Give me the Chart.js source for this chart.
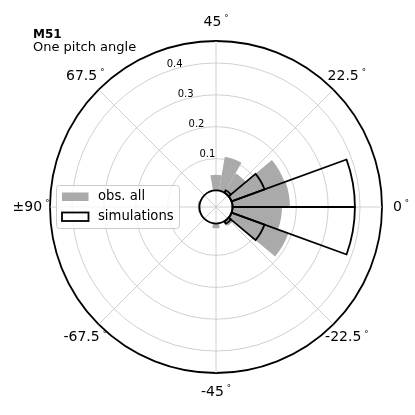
<!DOCTYPE html>
<html>
<head>
<meta charset="utf-8">
<script src="https://cdn.jsdelivr.net/npm/chart.js@4.4.1/dist/chart.umd.min.js"></script>
<style>
  html, body { margin: 0; padding: 0; background: #fff; }
  canvas { display: block; }
</style>
</head>
<body>
<canvas id="chart" width="415" height="415"></canvas>
<script>
// pitch angle bins, 10 deg wide (lower edge), from -90 to 80
const pitchBins = [-90, -80, -70, -60, -50, -40, -30, -20, -10, 0, 10, 20, 30, 40, 50, 60, 70, 80];
// fraction per bin
const obsAll      = [0.005, 0, 0, 0, 0.015, 0, 0.017, 0.19, 0.155, 0.18, 0.177, 0.07, 0.108, 0.049, 0, 0, 0, 0.005];
const simulations = [0, 0, 0, 0, 0, 0, 0.009, 0.11, 0.384, 0.384, 0.11, 0.009, 0, 0, 0, 0, 0, 0];

const rTicks = [0.1, 0.2, 0.3, 0.4];
const thetaTicks = [0, 22.5, 45, 67.5, 90, -67.5, -45, -22.5];

const rMin = -0.052;   // radial origin offset (inner hole)
const rMax = 0.469;

const obsColor = '#aaaaaa';
const gridColor = '#c4c4c4';
const FONT = '"DejaVu Sans", sans-serif';

// polarArea runs clockwise, bins go counter-clockwise -> reverse
const rev = a => a.slice().reverse();

const polarDecor = {
    id: 'polarDecor',
    afterDatasetsUpdate(chart) {
        // bars start at r = 0, not at the centre
        const r0 = chart.scales.r.getDistanceFromCenterForValue(0);
        chart.data.datasets.forEach((ds, i) => {
            chart.getDatasetMeta(i).data.forEach(arc => { arc.innerRadius = r0; });
        });
    },
    beforeDatasetsDraw(chart) {
        const ctx = chart.ctx, s = chart.scales.r;
        const R = s.getDistanceFromCenterForValue(rMax);
        ctx.save();
        ctx.strokeStyle = gridColor;
        ctx.lineWidth = 0.8;
        thetaTicks.forEach(p => {
            const a = p * 2 * Math.PI / 180;
            ctx.beginPath();
            ctx.moveTo(s.xCenter, s.yCenter);
            ctx.lineTo(s.xCenter + R * Math.cos(a), s.yCenter - R * Math.sin(a));
            ctx.stroke();
        });
        ctx.restore();
    },
    afterDatasetsDraw(chart) {
        const ctx = chart.ctx, s = chart.scales.r;
        // inner hole
        ctx.save();
        ctx.strokeStyle = '#000';
        ctx.lineWidth = 1.8;
        ctx.beginPath();
        ctx.arc(s.xCenter, s.yCenter, s.getDistanceFromCenterForValue(0), 0, 2 * Math.PI);
        ctx.stroke();

        // radial tick labels
        ctx.fillStyle = '#000';
        ctx.font = '10px ' + FONT;
        ctx.textAlign = 'left';
        ctx.textBaseline = 'bottom';
        const la = 110 * Math.PI / 180;
        rTicks.forEach(v => {
            const d = s.getDistanceFromCenterForValue(v);
            ctx.fillText(String(v), s.xCenter + d * Math.cos(la), s.yCenter - d * Math.sin(la) - 2.5);
        });
        ctx.restore();
    },
    afterDraw(chart) {
        const ctx = chart.ctx, s = chart.scales.r;
        ctx.save();
        ctx.fillStyle = '#000';

        // angle labels, with small raised degree sign
        ctx.textBaseline = 'middle';
        ctx.textAlign = 'left';
        thetaTicks.forEach(p => {
            const txt = p === 90 ? '±90' : String(p);
            ctx.font = '14px ' + FONT;
            const w1 = ctx.measureText(txt).width;
            ctx.font = '8.5px ' + FONT;
            const w2 = ctx.measureText('°').width;
            const gap = 3;
            const total = w1 + gap + w2;
            const a = p * 2 * Math.PI / 180;
            const cx = s.xCenter + 185 * Math.cos(a);
            const cy = s.yCenter - 185 * Math.sin(a);
            const x0 = cx - total / 2;
            ctx.font = '14px ' + FONT;
            ctx.fillText(txt, x0, cy);
            ctx.font = '8.5px ' + FONT;
            ctx.fillText('°', x0 + w1 + gap, cy - 3.5);
        });

        // title
        ctx.textBaseline = 'alphabetic';
        ctx.font = 'bold 12px ' + FONT;
        ctx.fillText('M51', 33, 37.5);
        ctx.font = '13px ' + FONT;
        ctx.fillText('One pitch angle', 33, 50.5);

        // legend
        ctx.beginPath();
        ctx.roundRect(56.5, 185.5, 123, 43, 3);
        ctx.fillStyle = 'rgba(255,255,255,0.8)';
        ctx.fill();
        ctx.strokeStyle = '#cccccc';
        ctx.lineWidth = 1;
        ctx.stroke();

        ctx.fillStyle = obsColor;
        ctx.fillRect(62, 192.5, 26.5, 8.5);
        ctx.fillStyle = '#fff';
        ctx.fillRect(62, 212.5, 26.5, 8.5);
        ctx.strokeStyle = '#000';
        ctx.lineWidth = 1.8;
        ctx.strokeRect(62, 212.5, 26.5, 8.5);

        ctx.fillStyle = '#000';
        ctx.font = '13.2px ' + FONT;
        ctx.textBaseline = 'middle';
        ctx.fillText('obs. all', 98, 197);
        ctx.fillText('simulations', 98, 217);
        ctx.restore();
    }
};

new Chart(document.getElementById('chart'), {
    type: 'polarArea',
    data: {
        labels: rev(pitchBins),
        datasets: [{
            label: 'obs. all',
            data: rev(obsAll),
            backgroundColor: obsColor,
            borderWidth: 0,
            order: 2
        }, {
            label: 'simulations',
            data: rev(simulations),
            backgroundColor: 'rgba(0,0,0,0)',
            borderColor: '#000',
            borderWidth: ctx => (ctx.raw > 0 ? 1.8 : 0),
            borderJoinStyle: 'round',
            order: 1
        }]
    },
    options: {
        responsive: false,
        animation: false,
        events: [],
        layout: {
            padding: { left: 50, right: 33, top: 41, bottom: 42 }
        },
        plugins: {
            legend: { display: false },
            tooltip: { enabled: false }
        },
        scales: {
            r: {
                min: rMin,
                max: rMax,
                startAngle: -90,
                afterBuildTicks: scale => {
                    scale.ticks = rTicks.concat([rMax]).map(v => ({ value: v }));
                },
                ticks: { display: false },
                angleLines: { display: false },
                grid: {
                    circular: true,
                    color: c => (c.tick && c.tick.value === rMax ? '#000' : gridColor),
                    lineWidth: c => (c.tick && c.tick.value === rMax ? 1.8 : 0.8)
                }
            }
        }
    },
    plugins: [polarDecor]
});
</script>
</body>
</html>
